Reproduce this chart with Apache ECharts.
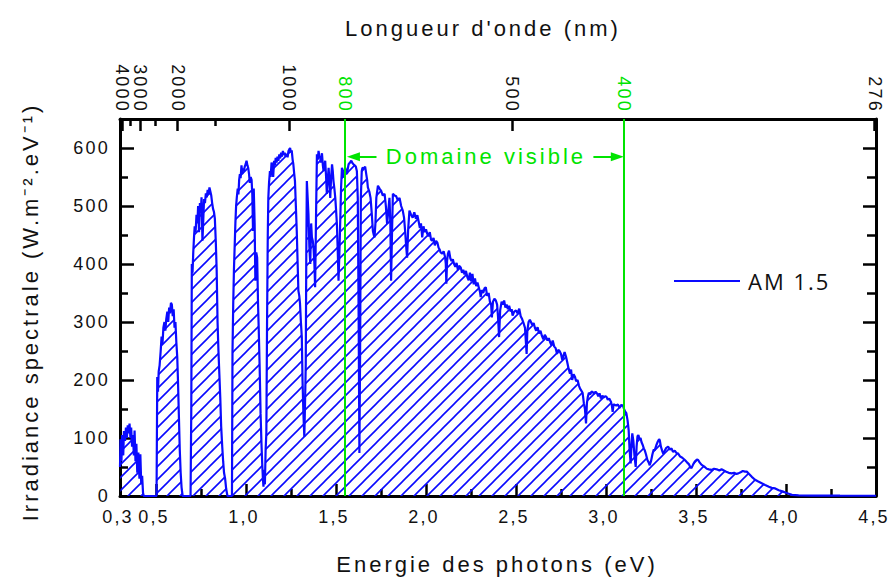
<!DOCTYPE html>
<html><head><meta charset="utf-8">
<script src="https://cdn.jsdelivr.net/npm/echarts@6/dist/echarts.min.js"></script>
<style>
html,body{margin:0;padding:0;background:#fff}
#c{width:891px;height:578px}
#c text{letter-spacing:3px}
#c text[style*="18px"]{letter-spacing:2.2px}
#c text[style*="Open Sans"]{letter-spacing:2px}
</style></head><body><div id="c"></div>
<script>
// AM1.5 spectral irradiance vs photon energy [eV, W.m-2.eV-1]
const spectrum = [
[0.300,50],[0.303,98],[0.308,60],[0.312,105],[0.318,70],[0.322,112],[0.328,95],[0.333,118],[0.338,100],[0.343,122],[0.348,108],[0.353,125],[0.358,100],[0.362,118],[0.367,85],[0.372,105],[0.377,70],[0.381,113],[0.386,60],[0.391,90],[0.396,40],[0.402,75],[0.408,30],[0.413,72],[0.418,20],[0.423,35],[0.428,5],[0.432,0],
[0.503,0],[0.507,205],[0.511,180],[0.515,215],[0.520,225],[0.526,250],[0.531,275],[0.536,262],[0.541,290],[0.547,300],[0.552,285],[0.557,305],[0.563,318],[0.568,300],[0.573,325],[0.578,315],[0.583,333],[0.588,330],[0.593,310],[0.598,322],[0.603,290],[0.608,300],[0.613,265],[0.618,240],[0.622,200],[0.627,140],[0.632,80],[0.637,40],[0.642,15],[0.648,0],
[0.692,0],[0.696,150],[0.699,400],[0.703,385],[0.707,420],[0.711,445],[0.715,465],[0.720,455],[0.725,485],[0.730,470],[0.734,500],[0.739,455],[0.744,505],[0.749,490],[0.753,515],[0.758,440],[0.762,470],[0.767,512],[0.772,505],[0.777,522],[0.782,515],[0.787,528],[0.792,520],[0.797,532],[0.802,525],[0.807,518],[0.812,505],[0.817,495],[0.822,490],[0.827,478],[0.832,440],[0.837,390],[0.842,300],[0.847,250],[0.852,210],[0.857,170],[0.862,120],[0.868,85],[0.873,60],[0.878,40],[0.884,30],[0.890,12],[0.897,0],
[0.922,0],[0.925,250],[0.929,330],[0.933,390],[0.937,430],[0.941,470],[0.945,500],[0.949,515],[0.954,530],[0.958,520],[0.962,545],[0.966,555],[0.970,548],[0.975,570],[0.979,555],[0.984,565],[0.988,560],[0.993,568],[0.998,572],[1.003,578],[1.008,570],[1.012,566],[1.017,555],[1.021,540],[1.026,550],[1.031,545],[1.035,520],[1.039,457],[1.043,530],[1.048,470],[1.052,371],[1.057,420],[1.062,411],[1.067,330],[1.071,285],[1.076,220],[1.081,142],[1.086,90],[1.090,56],[1.094,30],[1.097,16],[1.101,45],[1.105,20],[1.109,80],
[1.113,108],[1.117,300],[1.121,450],[1.124,514],[1.128,540],[1.133,560],[1.137,550],[1.142,575],[1.147,565],[1.151,550],[1.156,578],[1.161,570],[1.165,583],[1.170,575],[1.175,585],[1.180,578],[1.185,589],[1.190,582],[1.195,592],[1.200,585],[1.205,595],[1.210,588],[1.215,592],[1.220,585],[1.226,590],[1.231,584],[1.236,595],[1.241,598],[1.245,600],[1.250,592],[1.254,596],[1.259,580],[1.263,572],[1.268,555],[1.272,543],[1.277,500],[1.282,457],[1.287,400],[1.291,354],[1.296,345],[1.300,332],[1.305,300],[1.310,274],[1.314,200],[1.319,142],[1.324,102],[1.328,160],[1.332,228],[1.335,420],[1.338,543],
[1.347,486],[1.352,430],[1.357,400],[1.362,470],[1.366,446],[1.371,440],[1.375,429],[1.380,400],[1.384,360],[1.389,480],[1.394,589],[1.399,580],[1.403,595],[1.408,585],[1.412,583],[1.417,575],[1.422,591],[1.427,570],[1.431,560],[1.436,570],[1.440,578],[1.445,550],[1.449,521],[1.454,545],[1.459,566],[1.464,540],[1.468,514],[1.473,550],[1.478,572],[1.482,560],[1.486,543],[1.491,530],[1.496,514],[1.500,495],[1.505,469],[1.510,420],[1.514,371],[1.519,420],[1.524,480],[1.528,530],[1.533,566],[1.538,558],[1.542,549],[1.547,560],[1.551,566],[1.556,560],[1.561,555],[1.566,565],[1.570,572],[1.578,575],[1.585,578],[1.591,574],[1.597,572],[1.604,570],[1.610,568],[1.616,560],[1.621,514],[1.626,300],[1.630,74],[1.634,250],[1.638,514],[1.643,560],[1.647,566],[1.655,565],[1.662,568],[1.668,555],[1.673,545],[1.677,532],[1.685,525],[1.692,514],[1.698,490],[1.705,457],[1.710,450],[1.714,446],[1.719,470],[1.724,514],[1.733,535],[1.742,530],[1.751,526],[1.760,518],[1.770,521],[1.777,500],[1.784,469],[1.790,490],[1.797,514],[1.802,470],[1.806,371],[1.811,450],[1.816,521],[1.825,518],[1.834,517],[1.843,510],[1.853,514],[1.862,500],[1.871,492],[1.878,480],[1.884,457],[1.890,430],[1.895,411],[1.901,460],[1.908,492],[1.917,485],
[1.926,480],[1.935,489],[1.944,478],[1.952,484],[1.960,472],[1.966,462],[1.972,470],[1.979,446],[1.986,465],[1.993,455],[2.000,460],[2.007,452],[2.014,448],[2.021,455],[2.028,442],[2.035,440],[2.042,445],[2.049,432],[2.056,440],[2.063,437],[2.070,428],[2.076,425],[2.081,420],[2.090,418],[2.098,422],[2.106,412],[2.110,400],[2.113,366],[2.117,405],[2.122,418],[2.128,423],[2.135,410],[2.142,405],[2.149,408],[2.156,400],[2.163,395],[2.170,402],[2.177,390],[2.184,397],[2.193,394],[2.200,385],[2.207,390],[2.214,382],[2.222,388],[2.230,377],[2.237,372],[2.244,385],[2.251,370],[2.258,383],[2.265,365],[2.272,375],[2.279,362],[2.286,368],[2.293,360],[2.300,352],[2.304,343],[2.310,355],[2.318,350],[2.325,358],[2.332,360],[2.340,345],[2.348,350],[2.355,335],[2.362,330],[2.366,308],[2.372,335],[2.380,340],[2.388,337],[2.395,330],[2.400,310],[2.406,274],[2.412,320],[2.420,335],[2.427,330],[2.434,337],[2.441,325],[2.448,330],[2.455,322],[2.462,328],[2.470,318],[2.476,322],[2.481,311],[2.490,318],[2.500,320],[2.508,315],[2.518,323],[2.526,310],[2.534,305],[2.542,298],[2.550,290],[2.556,260],[2.559,245],[2.563,285],[2.570,300],[2.577,304],[2.583,300],[2.590,295],[2.598,298],[2.605,290],[2.612,285],[2.620,291],[2.628,280],[2.636,285],[2.644,276],[2.652,270],[2.660,278],[2.667,274],[2.675,268],[2.682,272],[2.690,265],[2.697,260],[2.704,268],[2.712,258],[2.720,255],[2.728,245],[2.735,252],[2.742,250],[2.750,245],[2.757,235],[2.764,242],[2.770,248],[2.778,240],[2.785,230],[2.792,220],[2.800,211],[2.806,218],[2.812,200],[2.820,210],[2.828,205],[2.834,198],[2.842,200],[2.850,190],[2.856,185],[2.862,182],[2.870,178],[2.877,160],[2.883,150],[2.889,125],[2.894,160],[2.899,171],[2.905,178],[2.912,175],[2.920,180],[2.927,179],[2.934,176],[2.942,180],[2.950,177],[2.957,172],[2.964,177],[2.972,168],[2.980,173],[2.988,170],[2.995,172],
[3.003,171],[3.010,166],[3.018,168],[3.028,162],[3.033,155],[3.037,145],[3.042,158],[3.050,157],[3.057,156],[3.066,158],[3.075,152],[3.085,157],[3.094,156],[3.100,150],[3.106,146],[3.113,143],[3.120,130],[3.126,113],[3.131,80],[3.137,56],[3.142,90],[3.146,108],[3.152,95],[3.158,70],[3.165,50],[3.170,85],[3.175,103],[3.180,105],[3.186,98],[3.192,100],[3.197,93],[3.204,88],[3.210,82],[3.215,79],[3.222,72],[3.230,62],[3.237,58],[3.243,53],[3.250,60],[3.258,72],[3.265,80],[3.271,79],[3.280,88],[3.288,94],[3.295,98],[3.299,96],[3.305,85],[3.312,78],[3.318,73],[3.326,78],[3.335,83],[3.345,85],[3.355,80],[3.364,82],[3.372,76],[3.382,78],[3.392,74],[3.401,73],[3.412,68],[3.424,66],[3.438,62],[3.450,58],[3.460,55],[3.468,50],[3.475,48],[3.485,55],[3.495,60],[3.505,63],[3.512,62],[3.520,58],[3.530,54],[3.540,52],[3.549,50],[3.560,47],[3.572,46],[3.586,45],[3.600,47],[3.615,46],[3.630,44],[3.642,46],[3.655,44],[3.668,42],[3.682,40],[3.698,39],[3.712,40],[3.725,38],[3.735,39],[3.748,41],[3.760,43],[3.772,42],[3.782,42],[3.795,38],[3.810,33],[3.828,28],[3.846,25],[3.865,22],[3.884,19],[3.905,16],[3.920,14],[3.940,13],[3.960,10],[3.980,8],[3.996,6],[4.015,4],[4.033,2],[4.070,1.2],[4.150,0.8],[4.300,0.5],[4.500,0.4]
];

// Bottom axis (photon energy, eV)
const energyLabels = [0.3, 0.5, 1.0, 1.5, 2.0, 2.5, 3.0, 3.5, 4.0, 4.5];
const energyMajorTicks = [0.5, 1.0, 1.5, 2.0, 2.5, 3.0, 3.5, 4.0, 4.5];
const energyMinorTicks = [0.75, 1.25, 1.75, 2.25, 2.75, 3.25, 3.75, 4.25];
// Top axis (wavelength, nm)
const wavelengthLabels = [4000, 3000, 2000, 1000, 800, 500, 400, 276];
const wavelengthMajorTicks = [4000, 3000, 2000, 1000, 500, 276];
const wavelengthMinorTicks = [3500, 2500, 1500];
const visibleBounds = [800, 400];
// Left axis (irradiance)
const irrLabels = [0, 100, 200, 300, 400, 500, 600];
const irrMinorTicks = [50, 150, 250, 350, 450, 550, 650];
// Annotation anchors (data coordinates)
const visibleArrowY = 585;
const arrowLeft = [1.725, 1.597];
const arrowRight = [2.93, 3.063];
const visibleTextE = 2.333;

const HC = 1240;
const toE = l => HC / l;
const BLUE = '#0a0aff', GREEN = '#00e400', INK = '#111';

function hatch() {
  const s = 13, c = document.createElement('canvas');
  c.width = s; c.height = s;
  const g = c.getContext('2d');
  g.strokeStyle = BLUE; g.lineWidth = 1.6;
  g.beginPath();
  g.moveTo(-2, s + 2); g.lineTo(s + 2, -2);
  g.moveTo(-2, 2); g.lineTo(2, -2);
  g.moveTo(s - 2, s + 2); g.lineTo(s + 2, s - 2);
  g.stroke();
  return c;
}

const axisLine = {show: true, onZero: false, lineStyle: {color: '#000', width: 3}};
const noLine = {show: false, onZero: false};
function tick(vals, len) {
  return {show: true, inside: true, length: len, customValues: vals, lineStyle: {color: '#000', width: 2.5}};
}
const base = {type: 'value', splitLine: {show: false}, axisPointer: {show: false}};

const chart = echarts.init(document.getElementById('c'), null, {renderer: 'svg'});
chart.setOption({
  animation: false,
  backgroundColor: '#fff',
  textStyle: {fontFamily: '"Liberation Sans", Arial, sans-serif', color: INK},
  grid: {left: 120, right: 15, top: 119, bottom: 82, containLabel: false, outerBoundsMode: 'none'},
  legend: {
    data: [{name: 'AM 1.5', icon: 'rect', itemStyle: {color: BLUE, borderWidth: 0}}],
    left: 674, top: 270, padding: 0, itemWidth: 66, itemHeight: 2, selectedMode: false,
    textStyle: {fontFamily: '"Open Sans"', fontSize: 22, color: INK, padding: [0, 0, 0, 3]}
  },
  xAxis: [
    Object.assign({}, base, {position: 'bottom', min: 0.3, max: 4.5, axisLine: axisLine,
      axisTick: tick(energyMajorTicks, 12),
      axisLabel: {show: true, customValues: energyLabels, fontSize: 18, margin: 12, color: INK, padding: [0, 4, 0, 0],
        formatter: v => Number(v).toFixed(1).replace('.', ',')}}),
    Object.assign({}, base, {position: 'bottom', min: 0.3, max: 4.5, axisLine: noLine,
      axisTick: tick(energyMinorTicks, 7), axisLabel: {show: false}}),
    Object.assign({}, base, {position: 'top', min: 0.3, max: 4.5, axisLine: axisLine,
      axisTick: tick(wavelengthMajorTicks.map(toE), 12),
      axisLabel: {show: true, customValues: wavelengthLabels.map(toE), rotate: 90, fontSize: 18, margin: 6,
        formatter: v => String(Math.round(HC / Number(v))),
        color: v => visibleBounds.indexOf(Math.round(HC / Number(v))) >= 0 ? GREEN : INK}}),
    Object.assign({}, base, {position: 'top', min: 0.3, max: 4.5, axisLine: noLine,
      axisTick: tick(wavelengthMinorTicks.map(toE), 7), axisLabel: {show: false}})
  ],
  yAxis: [
    Object.assign({}, base, {position: 'left', min: 0, max: 650, axisLine: axisLine,
      axisTick: tick(irrLabels, 14),
      axisLabel: {show: true, customValues: irrLabels, fontSize: 18, margin: 10, color: INK}}),
    Object.assign({}, base, {position: 'left', min: 0, max: 650, axisLine: noLine,
      axisTick: tick(irrMinorTicks, 8), axisLabel: {show: false}}),
    Object.assign({}, base, {position: 'right', min: 0, max: 650, axisLine: axisLine,
      axisTick: tick(irrLabels, 13), axisLabel: {show: false}}),
    Object.assign({}, base, {position: 'right', min: 0, max: 650, axisLine: noLine,
      axisTick: tick(irrMinorTicks, 9), axisLabel: {show: false}})
  ],
  series: [{
    type: 'line', name: 'AM 1.5', data: spectrum, xAxisIndex: 0, yAxisIndex: 0,
    showSymbol: false, symbol: 'none', silent: true,
    lineStyle: {color: BLUE, width: 2.2}, itemStyle: {color: BLUE},
    areaStyle: {color: {image: hatch(), repeat: 'repeat', imageWidth: 13, imageHeight: 13}, opacity: 1},
    markLine: {
      silent: true, symbol: 'none', symbolSize: [9, 13], label: {show: false},
      lineStyle: {color: GREEN, width: 2, type: 'solid'}, emphasis: {disabled: true},
      data: [
        {xAxis: toE(visibleBounds[0])},
        {xAxis: toE(visibleBounds[1])},
        [{coord: [arrowLeft[0], visibleArrowY], symbol: 'none'}, {coord: [arrowLeft[1], visibleArrowY], symbol: 'triangle'}],
        [{coord: [arrowRight[0], visibleArrowY], symbol: 'none'}, {coord: [arrowRight[1], visibleArrowY], symbol: 'triangle'}]
      ]
    },
    markPoint: {
      silent: true, symbol: 'circle', symbolSize: 1, itemStyle: {color: 'rgba(0,0,0,0)'},
      label: {show: true, position: 'inside', formatter: 'Domaine visible', color: GREEN, fontSize: 22},
      data: [{coord: [visibleTextE, visibleArrowY]}]
    }
  }],
  graphic: [
    {type: 'text', x: 483, y: 28, silent: true,
      style: {text: "Longueur d'onde (nm)", fontSize: 22, fontFamily: '"Liberation Sans"', fill: INK, align: 'center', verticalAlign: 'middle'}},
    {type: 'text', x: 497, y: 564, silent: true,
      style: {text: 'Energie des photons (eV)', fontSize: 22, fontFamily: '"Liberation Sans"', fill: INK, align: 'center', verticalAlign: 'middle'}},
    {type: 'text', x: 30, y: 312, rotation: Math.PI / 2, silent: true,
      style: {text: 'Irradiance spectrale (W.m\u207B\u00B2.eV\u207B\u00B9)', fontSize: 22, fontFamily: '"Liberation Sans"', fill: INK, align: 'center', verticalAlign: 'middle'}}
  ]
});
</script></body></html>
